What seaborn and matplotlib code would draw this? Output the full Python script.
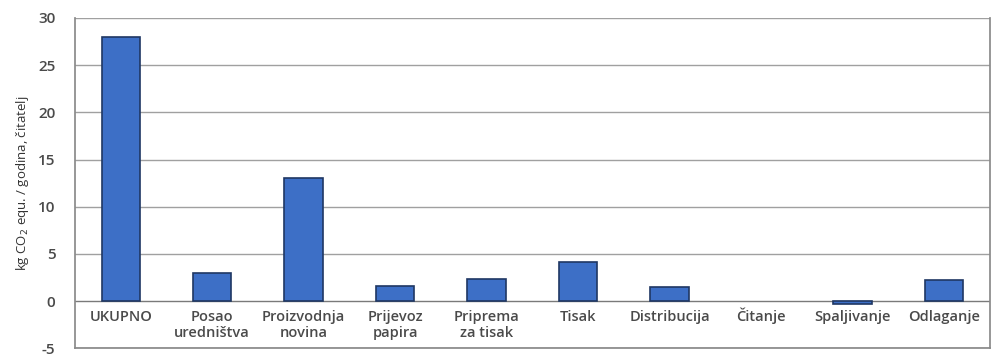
import matplotlib
matplotlib.use("Agg")
import matplotlib.pyplot as plt
import seaborn as sns
import pandas as pd

categories = ["UKUPNO", "Posao\nuredništva", "Proizvodnja\nnovina", "Prijevoz\npapira",
              "Priprema\nza tisak", "Tisak", "Distribucija", "Čitanje", "Spaljivanje", "Odlaganje"]
values = [28.0, 3.0, 13.0, 1.6, 2.3, 4.2, 1.5, 0.0, -0.3, 2.2]
yticks = [-5, 0, 5, 10, 15, 20, 25, 30]

sns.set_theme(style="white")
plt.rcParams["font.family"] = ["Open Sans", "DejaVu Sans"]

df = pd.DataFrame({"kategorija": categories, "vrijednost": values})

fig = plt.figure(figsize=(9.92, 3.57), dpi=100)
ax = fig.add_axes([0.0756, 0.024, 0.922, 0.926])

sns.barplot(data=df, x="kategorija", y="vrijednost", ax=ax, color="#3d6fc6",
            width=0.42, edgecolor="#1f3763", linewidth=1.2, saturation=1, zorder=3)

# a zero-height bar has no visible outline
for patch, v in zip(ax.patches, values):
    if v == 0:
        patch.set_linewidth(0)

ax.set_ylim(-5, 30)
ax.set_xlim(-0.5, len(categories) - 0.5)
ax.set_yticks(yticks)
ax.set_yticklabels([str(t) for t in yticks], fontsize=11, color="#4a4a4a",
                   fontweight="semibold")
ax.tick_params(axis="y", length=0, pad=14)

for t in yticks:
    ax.axhline(t, color="#a0a0a0" if t != 0 else "#7a7a7a", lw=1.0, zorder=1)

ax.set_xticks([])
ax.set_xlabel("")
ax.set_ylabel("kg CO$_2$ equ. / godina, čitatelj", fontsize=9.5, color="#333333",
              labelpad=5)

# category names sit just under the zero line, one baseline per text line
for i, lab in enumerate(categories):
    for k, line in enumerate(lab.split("\n")):
        ax.annotate(line, xy=(i, 0), xytext=(0, -14 - 12 * k), textcoords="offset points",
                    ha="center", va="baseline", fontsize=10.5, color="#4a4a4a",
                    fontweight="semibold")

for side in ["left", "right", "bottom"]:
    ax.spines[side].set_visible(True)
    ax.spines[side].set_color("#8a8a8a")
ax.spines["top"].set_visible(False)

fig.savefig("out.png", dpi=100)
